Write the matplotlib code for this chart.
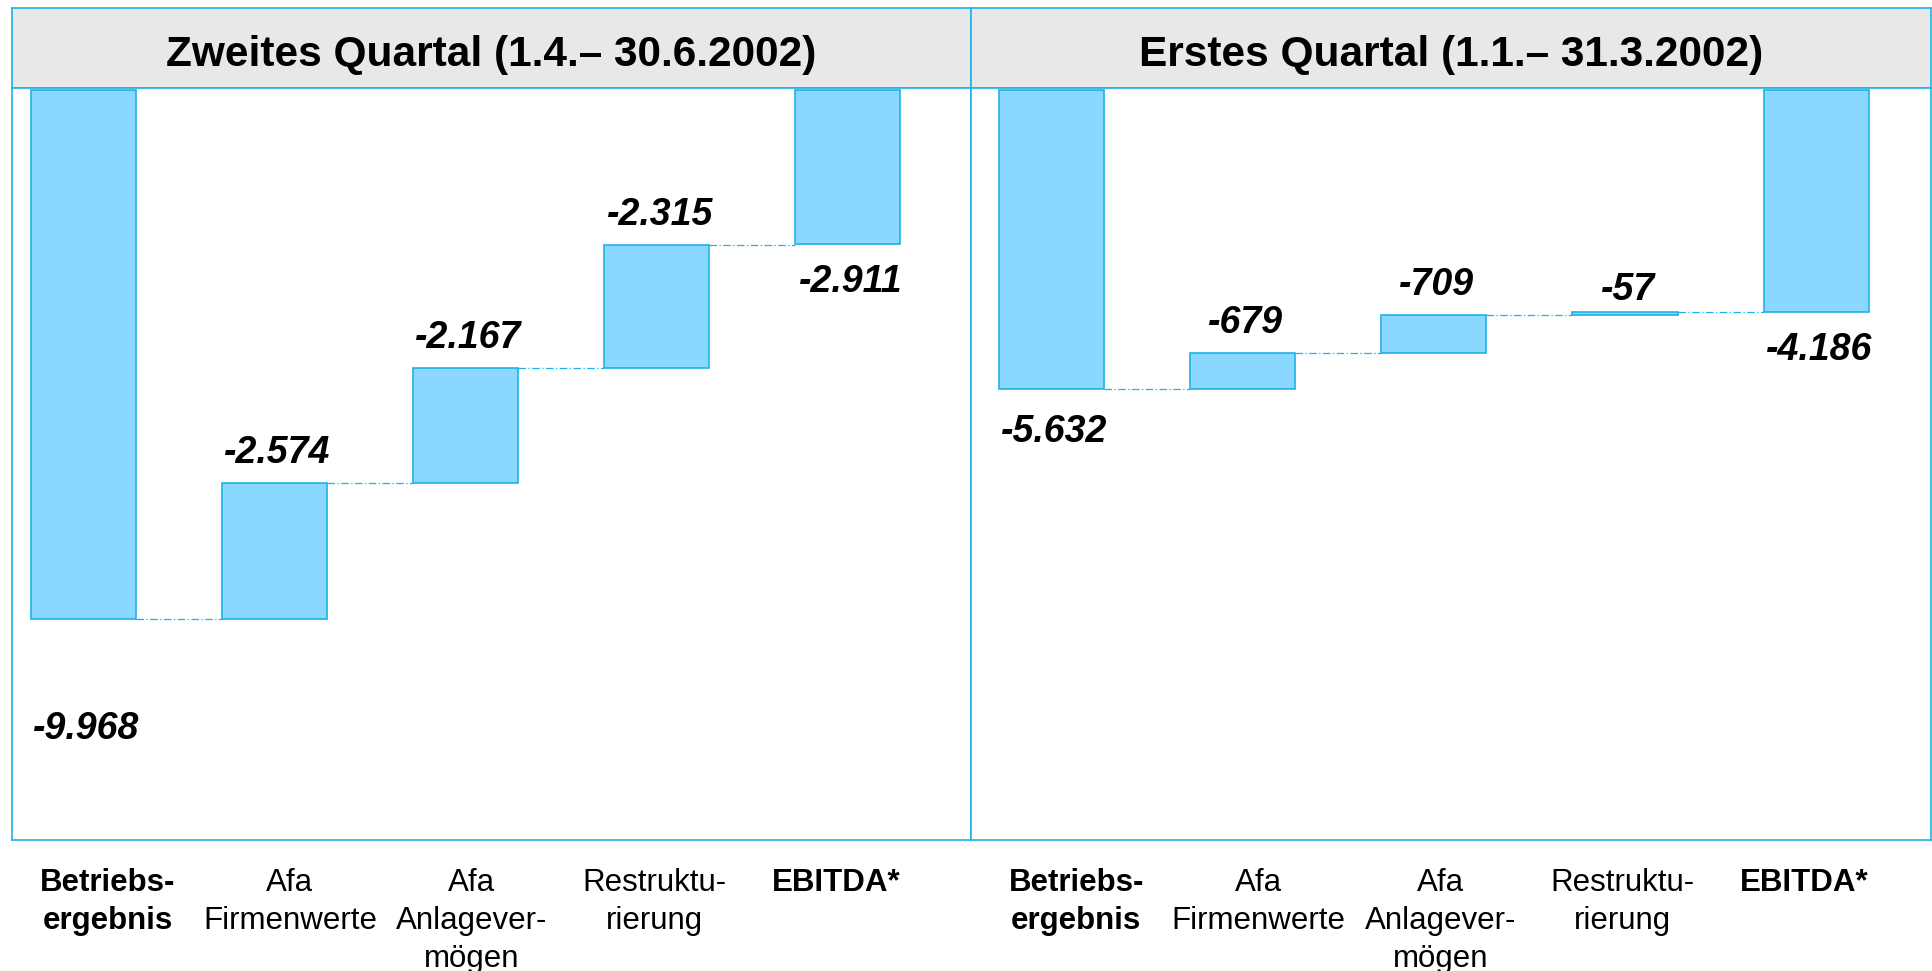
import matplotlib.pyplot as plt

plt.rcParams["font.family"] = ["Liberation Sans", "DejaVu Sans"]

# values in TEUR, as printed in the chart
categories = ["Betriebs-\nergebnis", "Afa\nFirmenwerte", "Afa\nAnlagever-\nmögen", "Restruktu-\nrierung", "EBITDA*"]
bold_categories = [0, 4]

q2_title = "Zweites Quartal (1.4.\u2013 30.6.2002)"
q2_values = [-9968, -2574, -2167, -2315, -2911]

q1_title = "Erstes Quartal (1.1.\u2013 31.3.2002)"
q1_values = [-5632, -679, -709, -57, -4186]

FRAME = "#1DB3E8"
BAR_FACE = "#8AD8FF"
HEADER = "#E8E8E8"

W, H = 1932, 971


def box(x0, y0, x1, y1):
    return [x0 / W, 1 - y1 / H, (x1 - x0) / W, (y1 - y0) / H]


def fmt(v):
    return f"{v:,}".replace(",", ".")


def draw_header(ax, title):
    ax.set_facecolor(HEADER)
    ax.set_xticks([])
    ax.set_yticks([])
    for sp in ax.spines.values():
        sp.set_color(FRAME)
        sp.set_linewidth(1.2)
    ax.text(0.5, 0.41, title, ha="center", va="center", fontsize=30.5,
            fontweight="bold", transform=ax.transAxes)


def draw_waterfall(ax, values, xlim, first_offset):
    width = 0.55
    n = len(values)
    # start bar from zero
    spans = [(0, values[0])]
    level = values[0]
    for v in values[1:-1]:
        spans.append((level, level - v))
        level = level - v
    spans.append((0, values[-1]))
    levels = [values[0]]
    for lo, hi in spans[1:-1]:
        levels.append(hi)

    for i, (a, b) in enumerate(spans):
        ax.bar(i, b - a, bottom=a, width=width, color=BAR_FACE,
               edgecolor=FRAME, linewidth=1.2, zorder=2)

    # dash-dot connectors between bars
    for i in range(n - 1):
        y = levels[i]
        ax.plot([i + width / 2, i + 1 - width / 2], [y, y], color=FRAME,
                lw=0.9, linestyle=(0, (6, 2, 1, 2)), zorder=1)

    # value labels
    for i, (a, b) in enumerate(spans):
        if i == 0:
            y, off = min(a, b), first_offset
        elif i == n - 1:
            y, off = min(a, b), -38
        else:
            y, off = max(a, b), 30 if abs(values[i]) > 100 else 22
        ax.annotate(fmt(values[i]), (i, y), xytext=(3, off),
                    textcoords="offset pixels", ha="center", va="center",
                    fontsize=27, fontweight="bold", fontstyle="italic")

    ax.set_xlim(*xlim)
    ax.set_ylim(-14120, 34)
    ax.set_yticks([])
    # category labels sit on a slightly tighter grid than the bars
    ax.set_xticks([0.13 + 0.952 * i for i in range(n)])
    ax.set_xticklabels(categories, fontsize=22.5, linespacing=1.36)
    for i, lab in enumerate(ax.get_xticklabels()):
        if i in bold_categories:
            lab.set_fontweight("bold")
    ax.tick_params(axis="x", length=0, pad=20)
    for sp in ax.spines.values():
        sp.set_color(FRAME)
        sp.set_linewidth(1.2)


fig = plt.figure(figsize=(W / 100, H / 100), dpi=100)

ax_h1 = fig.add_axes(box(12, 8, 971, 88))
ax_h2 = fig.add_axes(box(971, 8, 1931, 88))
draw_header(ax_h1, q2_title)
draw_header(ax_h2, q1_title)

ax1 = fig.add_axes(box(12, 88, 971, 840))
ax2 = fig.add_axes(box(971, 88, 1931, 840))
draw_waterfall(ax1, q2_values, (-0.372, 4.644), -110)
draw_waterfall(ax2, q1_values, (-0.42, 4.60), -43)

fig.savefig("out.png", dpi=100)
